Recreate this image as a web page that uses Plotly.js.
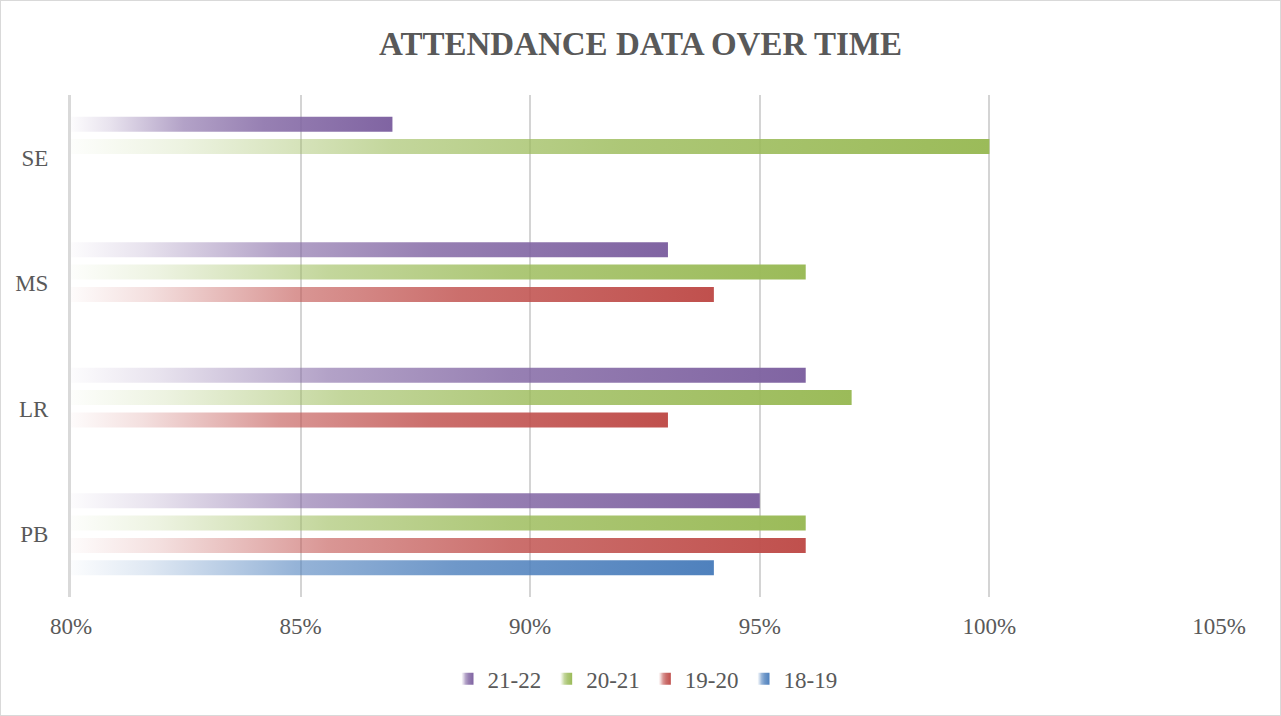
<!DOCTYPE html>
<html>
<head>
<meta charset="utf-8">
<script src="https://cdn.plot.ly/plotly-3.0.1.min.js"></script>
<style>
  html, body { margin: 0; padding: 0; background: #fff; }
  #chart { width: 1279px; height: 714px; border: 1px solid #d9d9d9; }
</style>
</head>
<body>
<div id="chart"></div>
<script>
// Data
const categories = ['PB', 'LR', 'MS', 'SE'];
const seriesNames = ['18-19', '19-20', '20-21', '21-22'];
const v1819 = [0.94, null, null, null];
const v1920 = [0.96, 0.93, 0.94, null];
const v2021 = [0.96, 0.97, 0.96, 1.00];
const v2122 = [0.95, 0.96, 0.93, 0.87];
const xTickVals = [0.80, 0.85, 0.90, 0.95, 1.00, 1.05];
const xTickText = ['80%', '85%', '90%', '95%', '100%', '105%'];

const colors = {'18-19': '#4F81BD', '19-20': '#C0504D', '20-21': '#9BBB59', '21-22': '#8064A2'};
const seriesValues = [v1819, v1920, v2021, v2122];

const FONT = '"Liberation Serif", "DejaVu Serif", serif';
const TXT = '#595959';
const BASE = 0.8;

const data = seriesNames.map((name, i) => ({
  type: 'bar',
  orientation: 'h',
  name: name,
  y: categories,
  // bars drawn from the 80% axis start; length = value - base
  x: seriesValues[i].map(v => v == null ? null : +(v - BASE).toFixed(4)),
  base: BASE,
  marker: { color: colors[name] },
  hoverinfo: 'y+name'
}));

const layout = {
  width: 1279, height: 714,
  margin: { l: 70, r: 61, t: 94, b: 118 },
  paper_bgcolor: '#ffffff',
  plot_bgcolor: '#ffffff',
  title: {
    text: '<b>ATTENDANCE DATA OVER TIME</b>',
    font: { family: FONT, size: 33, color: TXT },
    x: 0.5, xanchor: 'center', y: 0.94, yanchor: 'middle'
  },
  barmode: 'group',
  bargap: 0.286,
  bargroupgap: 0.33,
  xaxis: {
    range: [0.8, 1.05],
    tickvals: xTickVals,
    ticktext: xTickText,
    showgrid: true,
    gridcolor: '#d4d4d4',
    gridwidth: 2,
    zeroline: false,
    showline: false,
    ticks: '',
    tickfont: { family: FONT, size: 23, color: TXT },
    ticklabelstandoff: 13,
    fixedrange: true
  },
  yaxis: {
    type: 'category',
    categoryorder: 'array',
    categoryarray: categories,
    showgrid: false,
    zeroline: false,
    showline: true,
    linecolor: '#d9d9d9',
    linewidth: 3,
    ticks: '',
    tickfont: { family: FONT, size: 23, color: TXT },
    ticklabelstandoff: 15,
    fixedrange: true
  },
  legend: {
    orientation: 'h',
    x: 0.5, xanchor: 'center',
    y: -0.12, yanchor: 'top',
    traceorder: 'reversed',
    font: { family: FONT, size: 23, color: TXT },
    itemclick: false, itemdoubleclick: false
  },
  showlegend: true
};

function ensureGradients(gd) {
  const svg = gd.querySelector('svg.main-svg');
  let defs = svg.querySelector('defs');
  if (!defs) { defs = document.createElementNS('http://www.w3.org/2000/svg', 'defs'); svg.insertBefore(defs, svg.firstChild); }
  seriesNames.forEach(name => {
    const id = 'grad-' + name;
    if (svg.querySelector('#' + CSS.escape(id))) return;
    const g = document.createElementNS('http://www.w3.org/2000/svg', 'linearGradient');
    g.setAttribute('id', id);
    g.setAttribute('x1', '0'); g.setAttribute('y1', '0');
    g.setAttribute('x2', '1'); g.setAttribute('y2', '0');
    [[0, 0.02], [0.12, 0.18], [0.35, 0.6], [0.6, 0.82], [1, 1]].forEach(([o, a]) => {
      const s = document.createElementNS('http://www.w3.org/2000/svg', 'stop');
      s.setAttribute('offset', o);
      s.setAttribute('stop-color', colors[name]);
      s.setAttribute('stop-opacity', a);
      g.appendChild(s);
    });
    defs.appendChild(g);
  });
}

function applyGradients(gd) {
  ensureGradients(gd);
  const traces = gd.querySelectorAll('.barlayer .trace');
  traces.forEach((tr, i) => {
    const name = seriesNames[i];
    tr.querySelectorAll('.point path').forEach(p => {
      p.style.fill = 'url(#grad-' + name + ')';
      p.style.fillOpacity = 1;
    });
  });
  gd.querySelectorAll('.legend .traces').forEach(lt => {
    const txt = lt.querySelector('.legendtext');
    if (!txt) return;
    const name = txt.textContent.trim();
    if (!colors[name]) return;
    lt.querySelectorAll('.legendpoints path').forEach(p => {
      p.style.fill = 'url(#grad-' + name + ')';
      p.style.fillOpacity = 1;
    });
  });
}

const gd = document.getElementById('chart');
Plotly.newPlot(gd, data, layout, { displayModeBar: false }).then(() => {
  applyGradients(gd);
  gd.on('plotly_afterplot', () => applyGradients(gd));
});
</script>
</body>
</html>
